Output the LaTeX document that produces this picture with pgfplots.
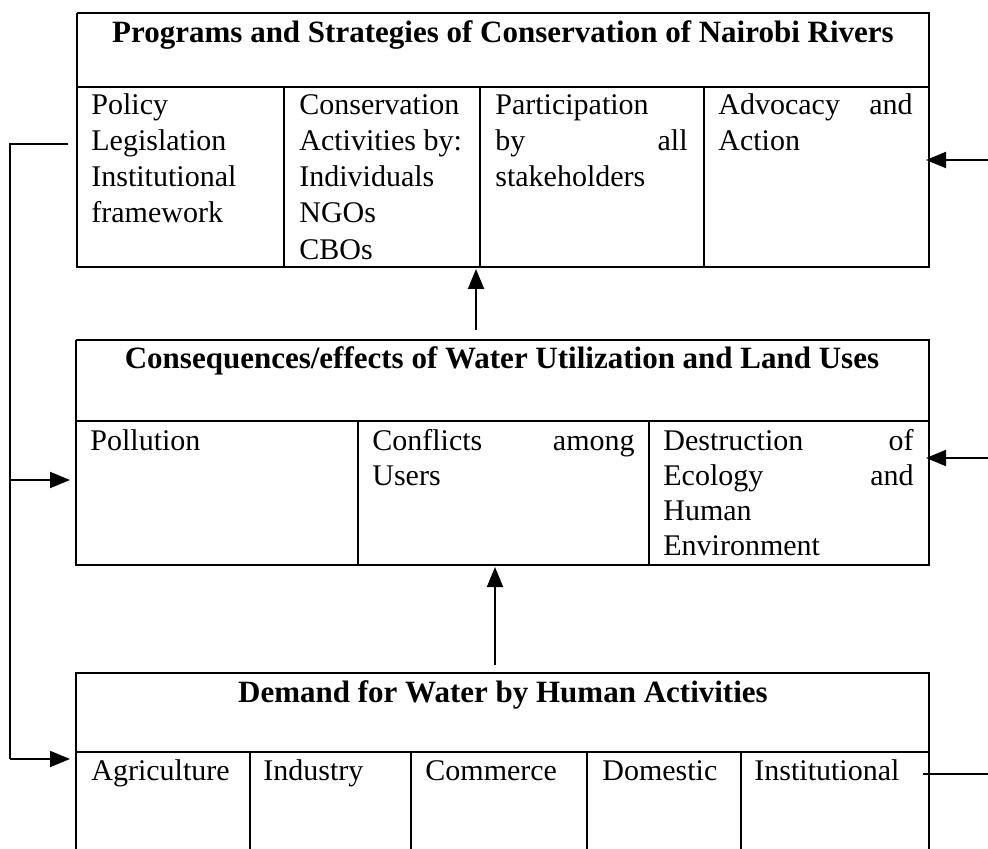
\documentclass[border=0pt]{standalone}
\usepackage{fontspec}
\setmainfont{Liberation Serif}
\usepackage{pgfplots}
\pgfplotsset{compat=1.18}
\usetikzlibrary{arrows.meta}
\newcommand{\body}{\fontsize{15}{18}\selectfont}
\newcommand{\ttl}{\fontsize{15.5}{18}\selectfont\bfseries}
\tikzset{
  tx/.style={anchor=base west, inner sep=0pt, font=\body},
  tr/.style={anchor=base east, inner sep=0pt, font=\body},
  th/.style={anchor=base, inner sep=0pt, font=\ttl},
  ah/.style={-{Triangle[length=10pt,width=8pt]}},
}
\begin{document}
\begin{tikzpicture}
\useasboundingbox (0,0) rectangle (494pt,424.5pt);
\begin{axis}[
  at={(0,0)}, anchor=south west,
  width=494pt, height=424.5pt, scale only axis,
  xmin=0, xmax=988, ymin=0, ymax=849, y dir=reverse,
  hide axis, clip=true, no markers,
  cycle list={{black,solid,mark=none}},
  every axis plot/.append style={black, solid, line width=1pt},
]
% ---------- Box 1 ----------
\addplot[line width=1.3pt] coordinates {(77,13) (929,13) (929,267) (77,267) (77,13)};
\addplot[line width=1.2pt] coordinates {(77,87) (929,87)};
\addplot[] coordinates {(284,87) (284,267)};
\addplot[] coordinates {(480,87) (480,267)};
\addplot[] coordinates {(704,87) (704,267)};
\node[th] at (axis cs:503,43) {Programs and Strategies of Conservation of Nairobi Rivers};
\node[tx] at (axis cs:91,115) {Policy};
\node[tx] at (axis cs:91,151) {Legislation};
\node[tx] at (axis cs:91,187) {Institutional};
\node[tx] at (axis cs:91,223) {framework};
\node[tx] at (axis cs:299,115) {Conservation};
\node[tx] at (axis cs:299,151) {Activities by:};
\node[tx] at (axis cs:299,187) {Individuals};
\node[tx] at (axis cs:299,223) {NGOs};
\node[tx] at (axis cs:299,260) {CBOs};
\node[tx] at (axis cs:495,115) {Participation};
\node[tx] at (axis cs:495,151) {by};
\node[tr] at (axis cs:688,151) {all};
\node[tx] at (axis cs:495,187) {stakeholders};
\node[tx] at (axis cs:718,115) {Advocacy};
\node[tr] at (axis cs:913,115) {and};
\node[tx] at (axis cs:718,151) {Action};
% ---------- Box 2 ----------
\addplot[line width=1.3pt] coordinates {(76,340) (929,340) (929,565) (76,565) (76,340)};
\addplot[line width=1.2pt] coordinates {(76,421) (929,421)};
\addplot[] coordinates {(358,421) (358,565)};
\addplot[] coordinates {(649,421) (649,565)};
\node[th] at (axis cs:502,369) {Consequences/effects of Water Utilization and Land Uses};
\node[tx] at (axis cs:90,450) {Pollution};
\node[tx] at (axis cs:372,450) {Conflicts};
\node[tr] at (axis cs:635,450) {among};
\node[tx] at (axis cs:372,485) {Users};
\node[tx] at (axis cs:663,450) {Destruction};
\node[tr] at (axis cs:914,450) {of};
\node[tx] at (axis cs:663,485) {Ecology};
\node[tr] at (axis cs:914,485) {and};
\node[tx] at (axis cs:663,520) {Human};
\node[tx] at (axis cs:663,555) {Environment};
% ---------- Box 3 ----------
\addplot[line width=1.3pt] coordinates {(76,860) (76,673) (929,673) (929,860)};
\addplot[line width=1.2pt] coordinates {(76,752) (929,752)};
\addplot[] coordinates {(250,752) (250,860)};
\addplot[] coordinates {(411,752) (411,860)};
\addplot[] coordinates {(587,752) (587,860)};
\addplot[] coordinates {(741,752) (741,860)};
\node[th] at (axis cs:503,702) {Demand for Water by Human Activities};
\node[tx] at (axis cs:91,780) {Agriculture};
\node[tx] at (axis cs:263,780) {Industry};
\node[tx] at (axis cs:425,780) {Commerce};
\node[tx] at (axis cs:602,780) {Domestic};
\node[tx] at (axis cs:754,780) {Institutional};
% ---------- Connectors ----------
\addplot[] coordinates {(68,144) (10,144) (10,759)};
\addplot[ah] coordinates {(10,480) (70,480)};
\addplot[ah] coordinates {(10,759) (70,759)};
\addplot[ah] coordinates {(476,330) (476,269)};
\addplot[ah] coordinates {(495,665) (495,567)};
\addplot[ah] coordinates {(995,160) (926,160)};
\addplot[ah] coordinates {(995,458) (926,458)};
\addplot[] coordinates {(923,774) (995,774)};
\end{axis}
\end{tikzpicture}
\end{document}
